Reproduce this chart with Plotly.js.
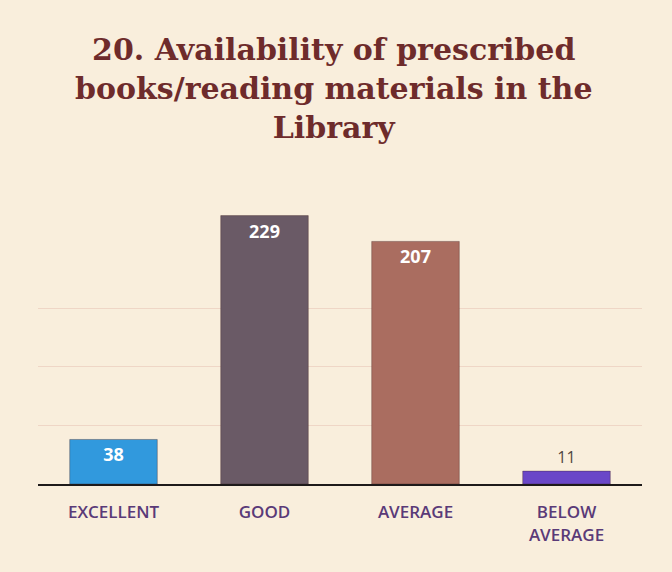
<!DOCTYPE html>
<html>
<head>
<meta charset="utf-8">
<script src="https://cdn.plot.ly/plotly-3.0.1.min.js"></script>
<style>
  html, body { margin: 0; padding: 0; background: #f9eedc; }
  #chart { width: 672px; height: 572px; }
</style>
</head>
<body>
<div id="chart"></div>
<script>
  // chart data
  const categories = ["EXCELLENT", "GOOD", "AVERAGE", "BELOW<br>AVERAGE"];
  const counts = [38, 229, 207, 11];
  const gridValues = [50, 100, 150];
  const barColors = ["#3199dd", "#6a5a66", "#aa6d60", "#6a47c8"];
  const labelColors = ["#ffffff", "#ffffff", "#ffffff", "#4f4540"];
  const labelPositions = ["inside", "inside", "inside", "outside"];

  const trace = {
    type: "bar",
    x: categories,
    y: counts,
    text: counts.map(String),
    textposition: labelPositions,
    insidetextanchor: "end",
    textfont: { family: "Open Sans, sans-serif", size: 18, color: labelColors, weight: "bold" },
    outsidetextfont: { family: "Open Sans, sans-serif", size: 16, color: "#4f4540", weight: "normal" },
    marker: { color: barColors, line: { color: "rgba(60,30,30,0.35)", width: 1 } },
    width: 0.58,
    cliponaxis: false,
    hoverinfo: "x+y"
  };

  const layout = {
    width: 672,
    height: 572,
    paper_bgcolor: "#f9eedc",
    plot_bgcolor: "#f9eedc",
    margin: { t: 191, r: 30, b: 88, l: 38 },
    annotations: [{
      // title placed as annotation so all three lines stay on the page
      text: "20. Availability of prescribed<br>books/reading materials in the<br>Library",
      xref: "paper",
      yref: "paper",
      x: 0.49,
      y: 1.55,
      xanchor: "center",
      yanchor: "top",
      showarrow: false,
      font: { family: "DejaVu Serif, serif", size: 30, color: "#6e2b2b", weight: "bold" }
    }],
    xaxis: {
      showline: true,
      linecolor: "#1e1a1a",
      linewidth: 2,
      ticks: "",
      ticklabelstandoff: 12,
      tickfont: { family: "Open Sans, sans-serif", size: 17, color: "#5a3a78", weight: 600 },
      fixedrange: true
    },
    yaxis: {
      range: [0, 250],
      tickvals: gridValues,
      showticklabels: false,
      showgrid: true,
      gridcolor: "#efd6c6",
      gridwidth: 1,
      zeroline: false,
      fixedrange: true
    },
    showlegend: false,
    bargap: 0.42
  };

  Plotly.newPlot("chart", [trace], layout, { displayModeBar: false, staticPlot: true });
</script>
</body>
</html>
